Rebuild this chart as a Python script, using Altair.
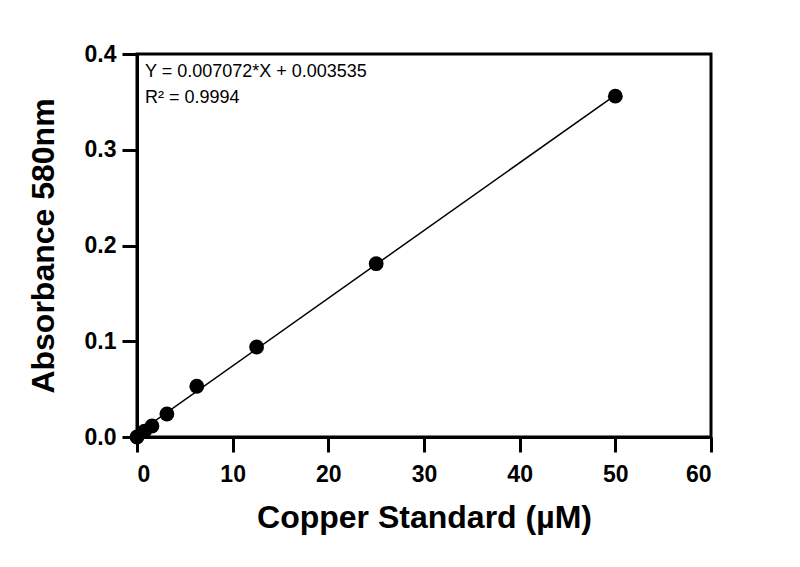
import altair as alt
import pandas as pd

# copper standard dilution series and measured absorbance
conc = [0, 0.78, 1.5625, 3.125, 6.25, 12.5, 25, 50]
absorb = [0.0, 0.006, 0.0115, 0.024, 0.053, 0.094, 0.181, 0.356]

slope = 0.007072
intercept = 0.003535
fit_x = [0, 50]
fit_y = [slope * v + intercept for v in fit_x]

eq_lines = ["Y = 0.007072*X + 0.003535", "R\u00b2 = 0.9994"]

pts = pd.DataFrame({"x": conc, "y": absorb})
fit = pd.DataFrame({"x": fit_x, "y": fit_y})
eq = pd.DataFrame({"t": eq_lines, "row": [0, 1]})

FONT = "Liberation Sans"

xs = alt.Scale(domain=[0, 60], nice=False)
ys = alt.Scale(domain=[0, 0.4], nice=False)

line = alt.Chart(fit).mark_line(color="black", strokeWidth=1.5).encode(
    x=alt.X("x:Q", scale=xs, title="Copper Standard (µM)",
            axis=alt.Axis(values=[0, 10, 20, 30, 40, 50, 60], format="d")),
    y=alt.Y("y:Q", scale=ys, title="Absorbance 580nm",
            axis=alt.Axis(values=[0, 0.1, 0.2, 0.3, 0.4], format=".1f")),
)

dots = alt.Chart(pts).mark_circle(color="black", opacity=1, size=220).encode(
    x=alt.X("x:Q", scale=xs),
    y=alt.Y("y:Q", scale=ys),
)


def eq_text(row, ypix):
    return alt.Chart(eq).transform_filter(alt.datum.row == row).mark_text(
        align="left", baseline="alphabetic", font=FONT, fontSize=18, color="black"
    ).encode(x=alt.value(8), y=alt.value(ypix), text="t:N")


chart = alt.layer(line, dots, eq_text(0, 23), eq_text(1, 49)).properties(
    width=574,
    height=383,
    autosize=alt.AutoSizeParams(type="none"),
    padding={"left": 129, "top": 46, "right": 80, "bottom": 120},
).configure_view(
    stroke="black", strokeWidth=3
).configure_axis(
    domainColor="black", domainWidth=3,
    tickColor="black", tickWidth=3, tickSize=15,
    grid=False,
    labelFont=FONT, labelFontSize=23, labelFontWeight="bold", labelColor="black",
    labelPadding=6,
    titleFont=FONT, titleFontSize=32, titleFontWeight="bold", titleColor="black",
).configure_axisX(
    labelPadding=11, titlePadding=16,
).configure_axisY(
    titlePadding=24,
)

chart.save("out.html", embed_options={"renderer": "svg", "actions": False})
